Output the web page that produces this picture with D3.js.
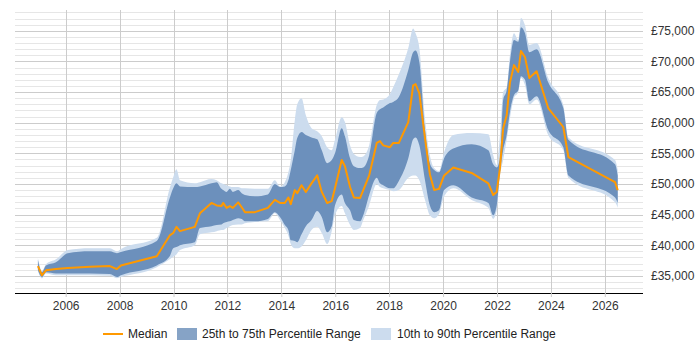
<!DOCTYPE html>
<html>
<head>
<meta charset="utf-8">
<script src="https://cdn.jsdelivr.net/npm/d3@7"></script>
<style>
  body { margin: 0; background: white; }
  text { font-family: "Liberation Sans", Arial, sans-serif; }
</style>
</head>
<body>
<div id="chart"></div>
<script>
let width = 700, height = 350;

let margin = { top: 10, bottom: 57, left: 15, right: 58 };

// decimal years
let dates = [
  2004.97, 2005.12, 2005.27, 2005.64, 2006.08, 2006.90, 2007.64, 2007.90, 2008.05, 2009.38,
  2009.86, 2009.99, 2010.11, 2010.24, 2010.79, 2010.98, 2011.41, 2011.60, 2011.78, 2011.84,
  2011.97, 2012.09, 2012.20, 2012.40, 2012.53, 2012.65, 2013.02, 2013.50, 2013.76, 2013.95,
  2014.13, 2014.26, 2014.35, 2014.50, 2014.59, 2014.75, 2014.91, 2015.12, 2015.33, 2015.50,
  2015.70, 2015.87, 2015.99, 2016.24, 2016.36, 2016.55, 2016.69, 2016.92, 2017.04, 2017.26,
  2017.54, 2017.66, 2017.78, 2018.03, 2018.15, 2018.36, 2018.71, 2018.89, 2018.98, 2019.12,
  2019.33, 2019.51, 2019.67, 2019.85, 2020.04, 2020.38, 2021.06, 2021.68, 2021.86, 2021.99,
  2022.11, 2022.23, 2022.36, 2022.48, 2022.63, 2022.79, 2022.89, 2023.04, 2023.20, 2023.47,
  2023.90, 2024.46, 2024.65, 2026.38, 2026.48
];

let median = [
  36600, 35100, 35900, 36100, 36300, 36500, 36600, 36100, 36700, 38200,
  41600, 42000, 43000, 42300, 43000, 45200, 46900, 46500, 46400, 46900,
  46100, 46400, 46100, 47000, 46200, 45400, 45400, 46100, 47400, 46900,
  46900, 47800, 46700, 49000, 48500, 49800, 48700, 50100, 51400, 48700,
  46900, 47200, 49300, 53900, 52900, 49500, 47800, 47700, 49000, 51400,
  56700, 57000, 56300, 56000, 56700, 56700, 60100, 66100, 66300, 64800,
  57500, 51600, 49000, 49200, 51400, 52700, 51800, 50100, 48200, 48700,
  52600, 59100, 61200, 66500, 69400, 68300, 71700, 70700, 67300, 68400,
  62400, 59300, 54400, 50300, 49000
];

let p75 = [
  37600, 35600, 36700, 37200, 38700, 39000, 39000, 38700, 38900, 40700,
  47700, 49300, 50100, 49600, 49500, 49600, 50100, 50300, 49200, 49000,
  48700, 49200, 48700, 49000, 48500, 48200, 48000, 48300, 50000, 49500,
  49600, 50600, 52300, 55500, 57500, 58500, 58000, 57600, 57300, 55500,
  53400, 53900, 55000, 59100, 57800, 54200, 52900, 52600, 52700, 54700,
  61600, 62200, 62500, 63200, 63400, 64200, 68600, 71500, 71800, 69900,
  58800, 53400, 52300, 51900, 54200, 55800, 56500, 55500, 53200, 52700,
  54200, 63700, 65300, 69900, 73500, 73200, 75600, 74600, 71500, 72000,
  66600, 62400, 57200, 53200, 51400
];

let p25 = [
  35900, 34800, 35600, 35400, 35400, 35400, 35300, 34800, 35100, 36700,
  38200, 39500, 39700, 40000, 40500, 42800, 43100, 43300, 43400, 43600,
  43800, 43900, 44100, 44400, 44300, 43900, 43900, 44300, 45400, 44600,
  43300, 42500, 40800, 40700, 40500, 41800, 43100, 44100, 45600, 44600,
  42100, 43100, 46500, 48300, 46900, 45700, 44100, 43900, 44900, 48200,
  51000, 50100, 49800, 49300, 49300, 50500, 54200, 57300, 57600, 56300,
  50600, 46500, 45400, 45700, 49000, 49800, 47800, 46900, 44900, 46500,
  51900, 55500, 58000, 61700, 64500, 65300, 67600, 67000, 63500, 64300,
  58800, 56000, 51400, 47800, 46900
];

let p90 = [
  37900, 35800, 36900, 37700, 39200, 39500, 39500, 39000, 39400, 41200,
  49300, 51100, 52400, 50600, 50100, 50300, 50800, 50600, 50100, 50000,
  49800, 49600, 49500, 49500, 49300, 49300, 49200, 49200, 50600, 49600,
  50300, 51900, 53900, 60400, 63000, 64000, 61200, 59100, 58600, 57800,
  56000, 55500, 57200, 60900, 60100, 56300, 54900, 54400, 54500, 56300,
  62900, 63700, 63800, 64700, 65800, 67900, 72200, 75400, 74600, 72200,
  60700, 54700, 52600, 52100, 55200, 58000, 58300, 58100, 54700, 53100,
  58000, 65000, 65800, 71000, 74600, 73500, 77100, 75900, 72700, 73000,
  67300, 62900, 57600, 53900, 52300
];

let p10 = [
  35800, 34600, 35400, 35100, 35100, 35100, 35000, 34600, 34800, 36400,
  37700, 38100, 38500, 39200, 40000, 41800, 42100, 42300, 42500, 42500,
  42800, 43100, 43300, 43400, 43400, 43600, 43800, 43900, 45200, 44100,
  42800, 41600, 40200, 39500, 39500, 39800, 40800, 42500, 43000, 42000,
  40200, 42300, 44900, 46400, 45200, 43300, 42500, 42800, 44100, 46500,
  50000, 49500, 49300, 49000, 48800, 49000, 51000, 51400, 51400, 50600,
  47400, 44900, 44400, 45100, 48000, 49300, 47400, 46100, 44300, 45700,
  51300, 53900, 57200, 60700, 64000, 65000, 67300, 66100, 63000, 63800,
  58000, 55500, 51000, 47000, 46100
];

let xTicks = [2006, 2008, 2010, 2012, 2014, 2016, 2018, 2020, 2022, 2024, 2026];
let yTicks = [35000, 40000, 45000, 50000, 55000, 60000, 65000, 70000, 75000];

let rows = dates.map((d, i) => ({
  date: d, med: median[i], lo25: p25[i], hi75: p75[i], lo10: p10[i], hi90: p90[i]
}));

let svg = d3.select('#chart')
  .append('svg')
  .attr('width', width)
  .attr('height', height)
  .style('background', 'white');

let xscale = d3.scaleLinear()
  .domain([2004.12, 2027.38])
  .range([margin.left, width - margin.right]);

let yscale = d3.scaleLinear()
  .domain([32200, 78400])
  .range([height - margin.bottom, margin.top]);

// minor horizontal grid every 1000
svg.append('g')
  .selectAll('line')
  .data(d3.range(33000, 79000, 1000))
  .enter()
  .append('line')
  .attr('x1', margin.left)
  .attr('x2', width - margin.right + 1)
  .attr('y1', d => Math.round(yscale(d)) + 0.5)
  .attr('y2', d => Math.round(yscale(d)) + 0.5)
  .attr('stroke', '#e6e6e6');

// major horizontal grid
svg.append('g')
  .selectAll('line')
  .data(yTicks)
  .enter()
  .append('line')
  .attr('x1', margin.left)
  .attr('x2', width - margin.right + 1)
  .attr('y1', d => Math.round(yscale(d)) + 0.5)
  .attr('y2', d => Math.round(yscale(d)) + 0.5)
  .attr('stroke', '#cccccc');

// vertical grid
svg.append('g')
  .selectAll('line')
  .data(xTicks)
  .enter()
  .append('line')
  .attr('x1', d => Math.round(xscale(d)) + 0.5)
  .attr('x2', d => Math.round(xscale(d)) + 0.5)
  .attr('y1', margin.top)
  .attr('y2', height - margin.bottom)
  .attr('stroke', '#cccccc');

let area90 = d3.area()
  .x(d => xscale(d.date))
  .y0(d => yscale(d.lo10))
  .y1(d => yscale(d.hi90))
  .curve(d3.curveMonotoneX);

let area75 = d3.area()
  .x(d => xscale(d.date))
  .y0(d => yscale(d.lo25))
  .y1(d => yscale(d.hi75))
  .curve(d3.curveMonotoneX);

let medLine = d3.line()
  .x(d => xscale(d.date))
  .y(d => yscale(d.med));

svg.append('path')
  .datum(rows)
  .attr('d', area90)
  .attr('fill', '#ccdcee');

svg.append('path')
  .datum(rows)
  .attr('d', area75)
  .attr('fill', '#6c90bc');

svg.append('path')
  .datum(rows)
  .attr('d', medLine)
  .attr('fill', 'none')
  .attr('stroke', '#ff9900')
  .attr('stroke-width', 2)
  .attr('stroke-linejoin', 'round');

// x axis
let xAxis = svg.append('g')
  .attr('transform', `translate(0, ${height - margin.bottom})`)
  .call(d3.axisBottom(xscale)
    .tickValues(xTicks)
    .tickFormat(d3.format('d'))
    .tickSize(4)
    .tickPadding(4));

xAxis.select('.domain')
  .attr('stroke', '#000')
  .attr('d', `M${margin.left},0.5H${width - margin.right + 1}`);
xAxis.selectAll('.tick line').attr('stroke', '#cccccc');
xAxis.selectAll('text')
  .style('font-size', '12px')
  .style('font-family', '"Liberation Sans", Arial, sans-serif')
  .attr('fill', '#333');

// y axis on the right
let yAxis = svg.append('g')
  .attr('transform', `translate(${width - margin.right + 1}, 0)`)
  .call(d3.axisRight(yscale)
    .tickValues(yTicks)
    .tickFormat(d => '£' + d3.format(',')(d))
    .tickSize(0)
    .tickPadding(8));

yAxis.select('.domain').remove();
yAxis.selectAll('text')
  .style('font-size', '12px')
  .style('font-family', '"Liberation Sans", Arial, sans-serif')
  .attr('fill', '#333');

// legend
let legend = svg.append('g').attr('transform', 'translate(0, 334)');

legend.append('line')
  .attr('x1', 103).attr('x2', 123)
  .attr('y1', 0).attr('y2', 0)
  .attr('stroke', '#ff9900')
  .attr('stroke-width', 2);

legend.append('text')
  .text('Median')
  .attr('x', 128).attr('y', 4)
  .style('font-size', '12px')
  .attr('fill', '#222');

legend.append('rect')
  .attr('x', 177).attr('y', -6)
  .attr('width', 20).attr('height', 12)
  .attr('fill', '#86a3c6');

legend.append('text')
  .text('25th to 75th Percentile Range')
  .attr('x', 202).attr('y', 4)
  .style('font-size', '12px')
  .attr('fill', '#222');

legend.append('rect')
  .attr('x', 371).attr('y', -6)
  .attr('width', 20).attr('height', 12)
  .attr('fill', '#ccdcee');

legend.append('text')
  .text('10th to 90th Percentile Range')
  .attr('x', 397).attr('y', 4)
  .style('font-size', '12px')
  .attr('fill', '#222');
</script>
</body>
</html>
